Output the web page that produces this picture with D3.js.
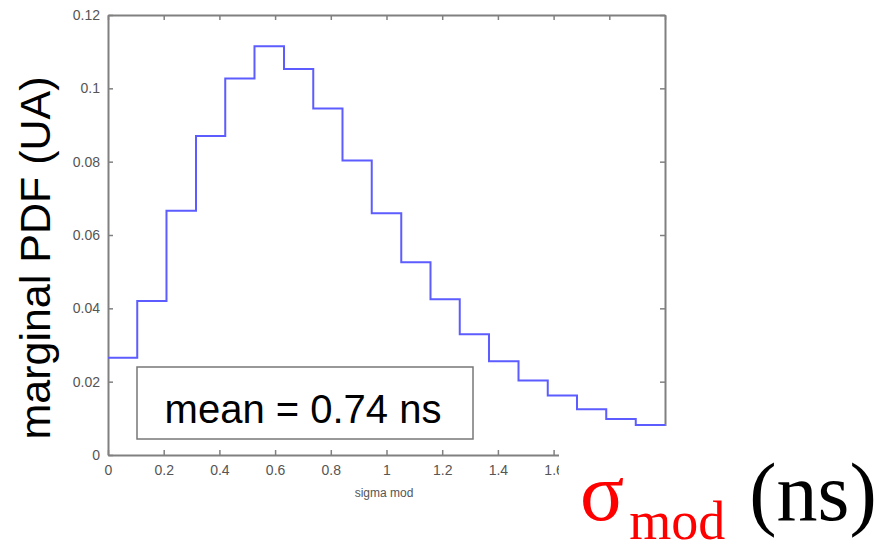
<!DOCTYPE html>
<html>
<head>
<meta charset="utf-8">
<script src="https://cdn.jsdelivr.net/npm/d3@7"></script>
<style>
  body { margin: 0; background: #fff; }
  .axis path, .axis line { stroke: #808080; }
  .axis text { fill: #555; font-family: "Liberation Sans", Arial, sans-serif; font-size: 14px; }
</style>
</head>
<body>
<svg width="890" height="544"></svg>
<script>

var margin = { top: 15, right: 225, bottom: 89, left: 108 }
    , width = 890 - margin.left - margin.right
    , height = 544 - margin.top - margin.bottom;

// histogram bins (left edges) and heights
var binStarts = [0, 0.105, 0.21, 0.316, 0.421, 0.526, 0.632, 0.737, 0.842, 0.947,
    1.053, 1.158, 1.263, 1.368, 1.474, 1.579, 1.684, 1.789, 1.895];
var binEnd = 2;
var pdfValues = [0.0265, 0.042, 0.0666, 0.087, 0.1027, 0.1115, 0.1053, 0.0945, 0.0803, 0.0659,
    0.0526, 0.0425, 0.0329, 0.0256, 0.0203, 0.0162, 0.0125, 0.0098, 0.0082];

var xTicks = [0, 0.2, 0.4, 0.6, 0.8, 1, 1.2, 1.4, 1.6, 1.8, 2];
var xTickLabels = ["0", "0.2", "0.4", "0.6", "0.8", "1", "1.2", "1.4", "1.6", "", ""]; // last two are hidden by the pasted label
var yTicks = [0, 0.02, 0.04, 0.06, 0.08, 0.1, 0.12];

var x = d3.scaleLinear().domain([0, 2]).range([0, width]);
var y = d3.scaleLinear().domain([0, 0.12]).range([height, 0]);

var data = binStarts.map(function (d, i) { return { x: d, v: pdfValues[i] }; });
data.push({ x: binEnd, v: pdfValues[pdfValues.length - 1] });

var root = d3.select("svg");
var svg = root.append("g")
    .attr("transform", "translate(" + margin.left + "," + margin.top + ")");

// box axes, ticks pointing inside (matlab style)
svg.append("g")
    .attr("class", "axis")
    .attr("transform", "translate(0," + height + ")")
    .call(d3.axisBottom(x).tickValues(xTicks)
        .tickFormat(function (d, i) { return xTickLabels[i]; })
        .tickSizeInner(-5).tickSizeOuter(0).tickPadding(10));

svg.append("g")
    .attr("class", "axis")
    .call(d3.axisTop(x).tickValues(xTicks).tickFormat("").tickSizeInner(-5).tickSizeOuter(0));

svg.append("g")
    .attr("class", "axis")
    .call(d3.axisLeft(y).tickValues(yTicks).tickFormat(function (d) { return String(d); })
        .tickSizeInner(-5).tickSizeOuter(0).tickPadding(8));

svg.append("g")
    .attr("class", "axis")
    .attr("transform", "translate(" + width + ",0)")
    .call(d3.axisRight(y).tickValues(yTicks).tickFormat("").tickSizeInner(-5).tickSizeOuter(0));

svg.selectAll(".axis .domain").attr("stroke-width", 2);
svg.selectAll(".axis .tick line").attr("stroke-width", 1.5);

// the stairs
var stairs = d3.line()
    .x(function (d) { return x(d.x); })
    .y(function (d) { return y(d.v); })
    .curve(d3.curveStepAfter);

svg.append("path")
    .datum(data)
    .attr("fill", "none")
    .attr("stroke", "#5c5cff")
    .attr("stroke-width", 2)
    .attr("d", stairs);

// small matlab x label
svg.append("text")
    .attr("x", 276)
    .attr("y", height + 42)
    .attr("text-anchor", "middle")
    .style("font-family", "Liberation Sans, Arial, sans-serif")
    .style("font-size", "12px")
    .style("fill", "#555")
    .text("sigma mod");

// mean annotation box
svg.append("rect")
    .attr("x", 29)
    .attr("y", 352)
    .attr("width", 336)
    .attr("height", 72)
    .attr("fill", "#fff")
    .attr("stroke", "#777")
    .attr("stroke-width", 1.5);

svg.append("text")
    .attr("x", 195)
    .attr("y", 408)
    .attr("text-anchor", "middle")
    .style("font-family", "Liberation Sans, Arial, sans-serif")
    .style("font-size", "40px")
    .style("fill", "#000")
    .text("mean = 0.74 ns");

// pasted-over area at the lower right
root.append("rect")
    .attr("x", 559)
    .attr("y", 426)
    .attr("width", 331)
    .attr("height", 118)
    .attr("fill", "#fff");

// big y label
root.append("text")
    .attr("transform", "translate(50,258) rotate(-90)")
    .attr("text-anchor", "middle")
    .style("font-family", "Liberation Sans, Arial, sans-serif")
    .style("font-size", "43px")
    .style("fill", "#000")
    .text("marginal PDF (UA)");

// sigma_mod (ns)
var lab = root.append("text")
    .attr("x", 580)
    .attr("y", 520)
    .style("font-family", "Liberation Serif, Times New Roman, serif");
lab.append("tspan").style("font-size", "82px").style("fill", "red").text("σ");
lab.append("tspan").attr("dy", 19).attr("dx", 5).style("font-size", "54px").style("fill", "red").text("mod");
lab.append("tspan").attr("dy", -19).attr("dx", 24).style("font-size", "82px").style("fill", "#000").text("(ns)");

</script>
</body>
</html>
